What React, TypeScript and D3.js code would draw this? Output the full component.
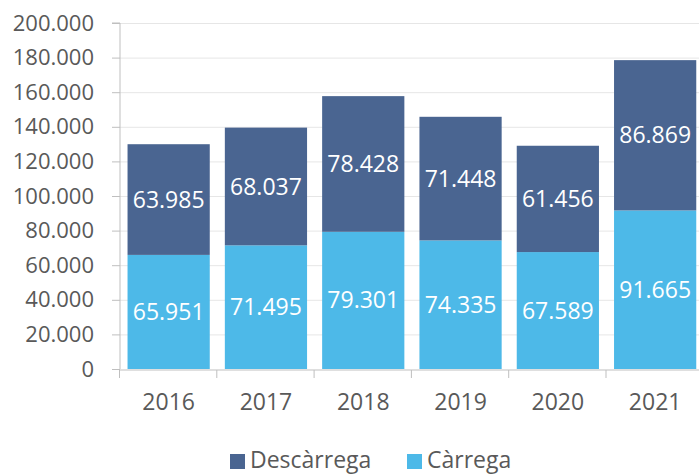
import React, { useEffect, useRef } from "react";
import * as d3 from "d3";

const years = ["2016", "2017", "2018", "2019", "2020", "2021"];
const carrega = [65951, 71495, 79301, 74335, 67589, 91665];
const descarrega = [63985, 68037, 78428, 71448, 61456, 86869];
const yTicks = [0, 20000, 40000, 60000, 80000, 100000, 120000, 140000, 160000, 180000, 200000];
const seriesNames = ["Descàrrega", "Càrrega"];

const fmt = (v: number) => (v === 0 ? "0" : d3.format(",")(v).replace(/,/g, "."));

const App = () => {
  const svgRef = useRef<SVGSVGElement>(null);

  useEffect(() => {
    const width = 699;
    const height = 474;
    const margin = { top: 23, left: 120, bottom: 105 };
    const font = "'Open Sans', sans-serif";
    const dark = "#4A6591";
    const light = "#4DB9E8";
    const textCol = "#595959";

    const svg = d3.select(svgRef.current);
    svg.selectAll("*").remove();
    svg.attr("width", width).attr("height", height);

    const x = d3
      .scaleBand()
      .domain(years)
      .range([margin.left, margin.left + 6 * 97.3])
      .paddingInner(0.155)
      .paddingOuter(0.0775);
    const y = d3.scaleLinear([0, 200000], [369, margin.top]);

    // gridlines
    svg
      .append("g")
      .selectAll("line")
      .data(yTicks.slice(1))
      .join("line")
      .attr("x1", margin.left)
      .attr("x2", width)
      .attr("y1", (d) => y(d) + 0.5)
      .attr("y2", (d) => y(d) + 0.5)
      .attr("stroke", "#E6E6E6")
      .attr("stroke-width", 1);

    // y axis
    svg
      .append("g")
      .attr("transform", `translate(${margin.left},0)`)
      .call(d3.axisLeft(y).tickValues(yTicks).tickFormat((d) => fmt(+d)).tickSize(8).tickPadding(18))
      .call((g) => g.select(".domain").attr("stroke", "#BFBFBF").attr("d", `M-8,${y(200000)}H0V${y(0)}`))
      .call((g) => g.selectAll(".tick line").attr("stroke", "#BFBFBF"))
      .call((g) =>
        g.selectAll(".tick text").attr("font-size", 22).attr("font-family", font).attr("fill", textCol)
      );

    const stacked = years.map((yr, i) => ({ yr, c: carrega[i], d: descarrega[i] }));

    // bars: Càrrega bottom
    svg
      .append("g")
      .selectAll("rect")
      .data(stacked)
      .join("rect")
      .attr("x", (d) => x(d.yr)!)
      .attr("width", x.bandwidth())
      .attr("y", (d) => y(d.c))
      .attr("height", (d) => y(0) - y(d.c))
      .attr("fill", light);

    svg
      .append("g")
      .selectAll("rect")
      .data(stacked)
      .join("rect")
      .attr("x", (d) => x(d.yr)!)
      .attr("width", x.bandwidth())
      .attr("y", (d) => y(d.c + d.d))
      .attr("height", (d) => y(d.c) - y(d.c + d.d))
      .attr("fill", dark);

    // labels
    const labels = svg.append("g").attr("font-family", font).attr("font-size", 23).attr("fill", "#fff").attr("text-anchor", "middle");
    labels
      .selectAll("text.c")
      .data(stacked)
      .join("text")
      .attr("class", "c")
      .attr("x", (d) => x(d.yr)! + x.bandwidth() / 2)
      .attr("y", (d) => (y(0) + y(d.c)) / 2)
      .attr("dy", "0.35em")
      .text((d) => fmt(d.c));
    labels
      .selectAll("text.d")
      .data(stacked)
      .join("text")
      .attr("class", "d")
      .attr("x", (d) => x(d.yr)! + x.bandwidth() / 2)
      .attr("y", (d) => (y(d.c) + y(d.c + d.d)) / 2)
      .attr("dy", "0.35em")
      .text((d) => fmt(d.d));

    // x axis
    svg
      .append("g")
      .attr("transform", `translate(0,${y(0) + 1})`)
      .call(d3.axisBottom(x).tickSize(0).tickPadding(24))
      .call((g) => g.select(".domain").attr("stroke", "#BFBFBF").attr("d", `M${margin.left},0H${width}`))
      .call((g) =>
        g.selectAll(".tick text").attr("font-size", 23).attr("font-family", font).attr("fill", textCol)
      );
    // category separators
    svg
      .append("g")
      .selectAll("line")
      .data(d3.range(7))
      .join("line")
      .attr("x1", (i) => margin.left + i * x.step() - 0.5)
      .attr("x2", (i) => margin.left + i * x.step() - 0.5)
      .attr("y1", y(0) + 1)
      .attr("y2", y(0) + 9)
      .attr("stroke", "#BFBFBF");

    // legend
    const legend = svg.append("g").attr("font-family", font).attr("font-size", 23).attr("fill", textCol);
    const lx = [230, 407];
    seriesNames.forEach((name, i) => {
      legend
        .append("rect")
        .attr("x", lx[i])
        .attr("y", 454)
        .attr("width", 15)
        .attr("height", 15)
        .attr("fill", i === 0 ? dark : light);
      legend
        .append("text")
        .attr("x", lx[i] + 20)
        .attr("y", 460)
        .attr("dy", "0.35em")
        .text(name);
    });
  }, []);

  return <svg ref={svgRef} style={{ position: "absolute", left: 0, top: 0 }} />;
};

export default App;
